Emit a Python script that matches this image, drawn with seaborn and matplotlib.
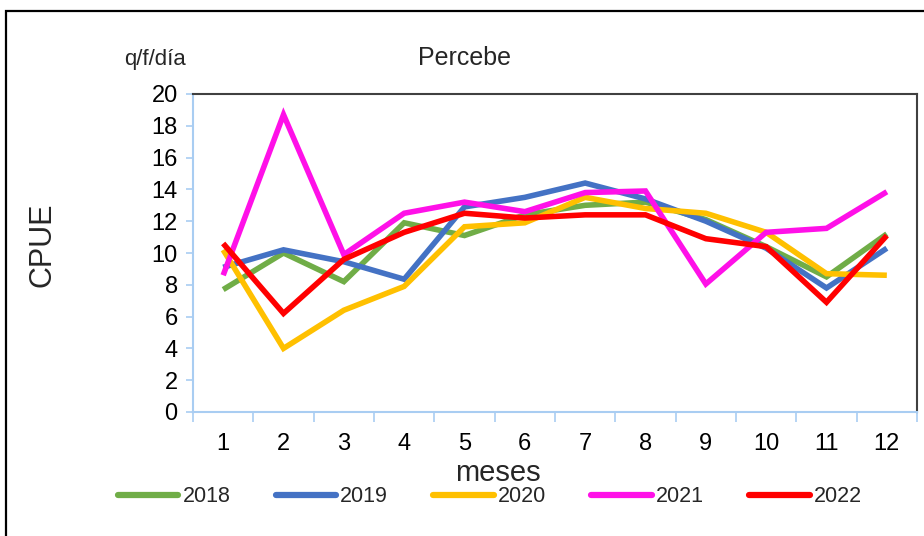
import matplotlib
matplotlib.use("Agg")
import matplotlib.pyplot as plt
import seaborn as sns
import pandas as pd
from matplotlib.patches import Rectangle

months = list(range(1, 13))
years = ["2018", "2019", "2020", "2021", "2022"]
v2018 = [7.7, 10.0, 8.2, 11.9, 11.1, 12.4, 13.0, 13.2, 12.1, 10.4, 8.5, 11.2]
v2019 = [9.1, 10.2, 9.45, 8.35, 12.9, 13.5, 14.4, 13.4, 12.0, 10.3, 7.8, 10.3]
v2020 = [10.2, 4.0, 6.4, 7.9, 11.65, 11.9, 13.5, 12.8, 12.5, 11.3, 8.7, 8.6]
v2021 = [8.6, 18.7, 9.9, 12.5, 13.2, 12.6, 13.8, 13.9, 8.05, 11.3, 11.55, 13.85]
v2022 = [10.6, 6.2, 9.6, 11.3, 12.5, 12.2, 12.4, 12.4, 10.9, 10.4, 6.9, 11.1]
colors = ["#70AD47", "#4472C4", "#FFC000", "#FF10E8", "#FF0000"]

series = [v2018, v2019, v2020, v2021, v2022]
rows = []
for y, vals in zip(years, series):
    for m, v in zip(months, vals):
        rows.append({"mes": m, "CPUE": v, "año": y})
df = pd.DataFrame(rows)

sns.set_theme(style="white")
plt.rcParams["font.family"] = ["Liberation Sans", "DejaVu Sans"]

fig = plt.figure(figsize=(9.24, 5.36), dpi=100)
ax = fig.add_axes([193/924, 1-412/536, (917-193)/924, (412-94)/536])

sns.lineplot(data=df, x="mes", y="CPUE", hue="año", palette=colors,
             linewidth=4.0, ax=ax, legend=True, sort=False)
for ln in ax.lines:
    ln.set_solid_joinstyle("miter")
    ln.set_solid_capstyle("butt")

ax.set_xlim(0.5, 12.5)
ax.set_ylim(0, 20)
ax.set_yticks(range(0, 21, 2))
ax.set_xticks(months)
ax.set_xticks([m + 0.5 for m in range(0, 13)], minor=True)
ax.tick_params(axis="x", which="major", length=0, pad=15, labelsize=17, colors="#000000")
ax.tick_params(axis="x", which="minor", length=7, width=1.2, color="#A9CDF2", direction="out", bottom=True)
ax.tick_params(axis="y", which="major", length=5, width=1.2, color="#A9CDF2", pad=6, labelsize=17, left=True, labelcolor="#000000")

for s in ["left", "bottom"]:
    ax.spines[s].set_color("#A9CDF2")
    ax.spines[s].set_linewidth(1.5)
for s in ["top", "right"]:
    ax.spines[s].set_color("#404040")
    ax.spines[s].set_linewidth(1.5)

ax.set_xlabel("")
ax.set_ylabel("")
fig.text(465/924, 1-58/536, "Percebe", ha="center", va="center", fontsize=18)
fig.text(155/924, 1-60/536, "q/f/día", ha="center", va="center", fontsize=16)
fig.text(42/924, 1-245/536, "CPUE", ha="center", va="center", rotation=90, fontsize=22)
fig.text(498/924, 1-473/536, "meses", ha="center", va="center", fontsize=21)

handles, labels = ax.get_legend_handles_labels()
ax.get_legend().remove()
for h in handles:
    h.set_linewidth(4.5)
    h.set_solid_capstyle("round")
leg = fig.legend(handles, labels, loc="center", bbox_to_anchor=(490/924, 1-497/536),
                 ncol=5, frameon=False, fontsize=15.5, handlelength=2.8,
                 handletextpad=0.2, columnspacing=2.1)

fig.patches.append(Rectangle((6/924, -0.1), 1.2, (536-11)/536 + 0.1, transform=fig.transFigure,
                             fill=False, edgecolor="black", linewidth=1.6))

fig.savefig("out.png", dpi=100)
